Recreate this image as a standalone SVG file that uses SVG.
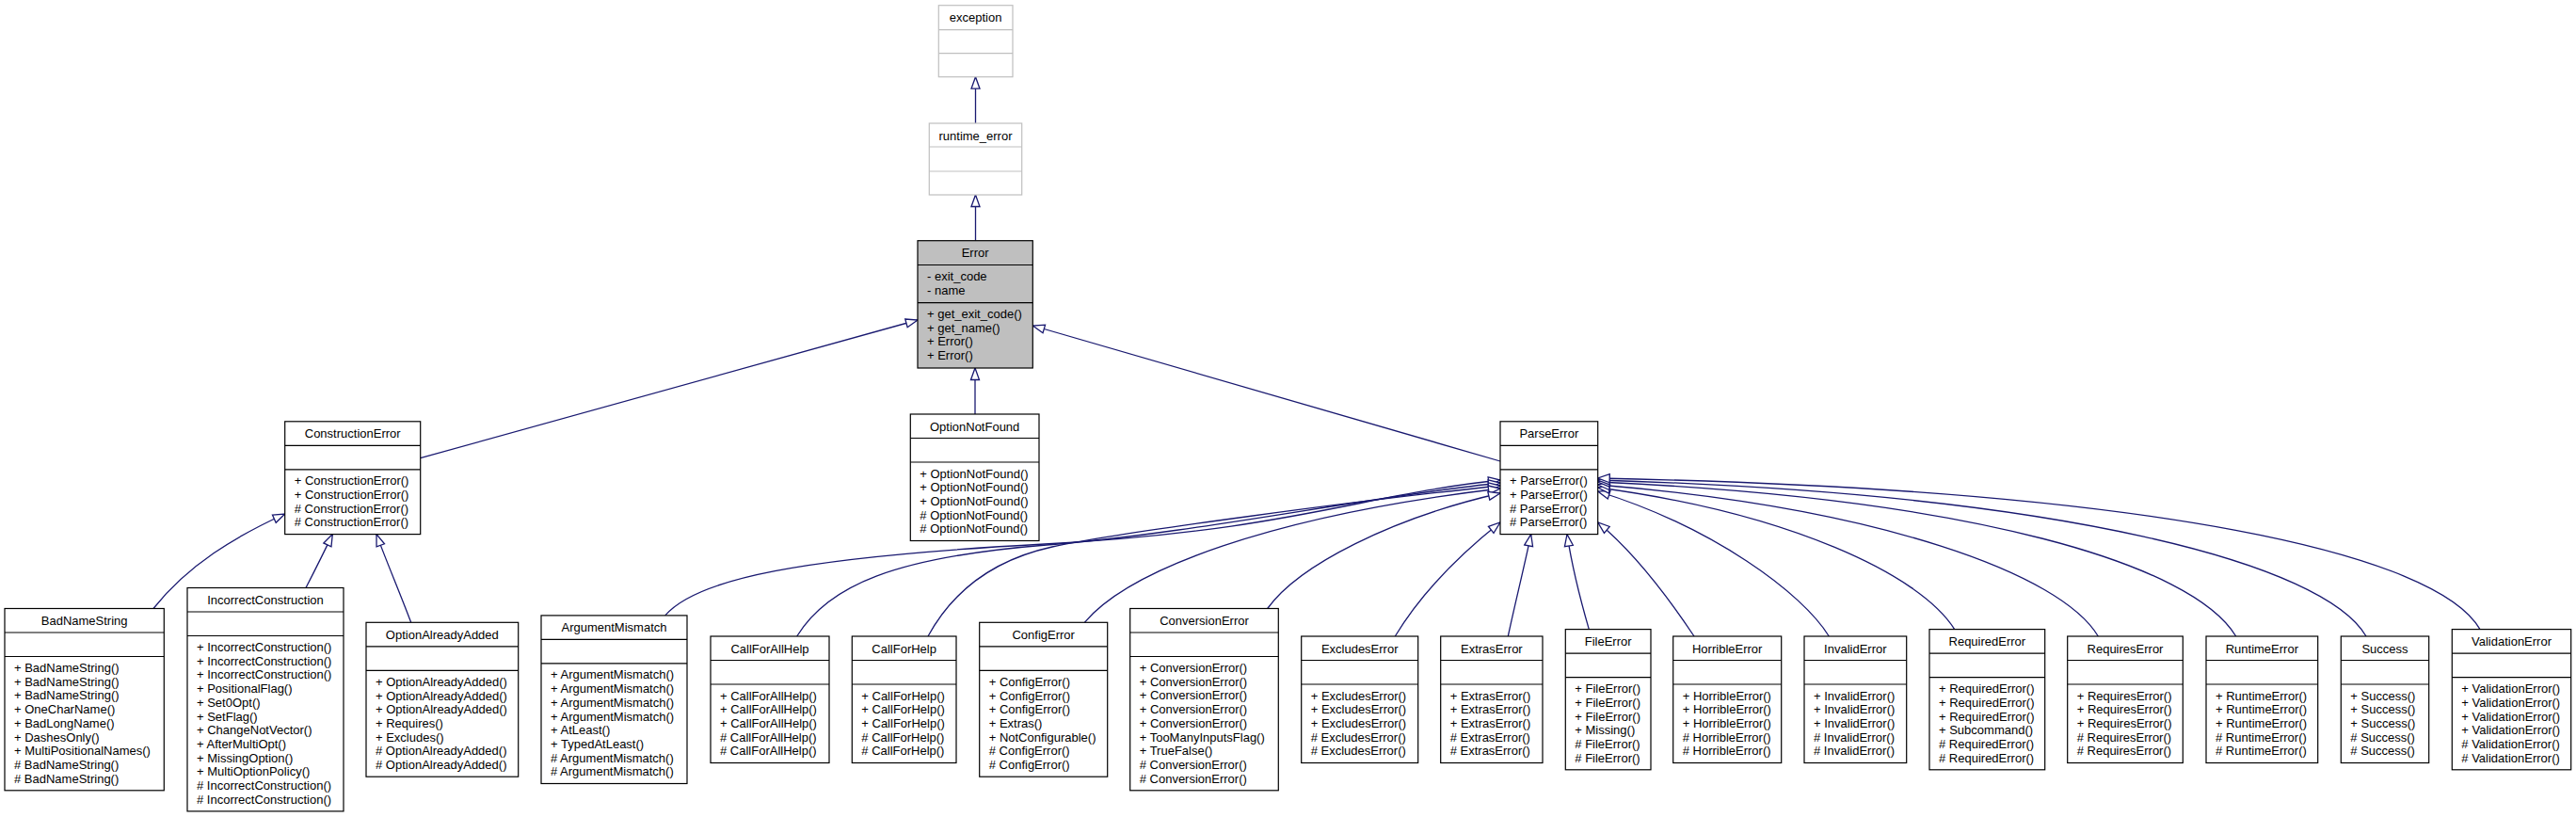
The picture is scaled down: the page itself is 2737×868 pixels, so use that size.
<svg xmlns="http://www.w3.org/2000/svg" width="2737" height="868" viewBox="0 0 2737 868">
<style>
.bg{fill:#fff}
rect.b{fill:#fff;stroke:#000;stroke-width:1.2}
rect.g{fill:#fff;stroke:#bfbfbf;stroke-width:1.2}
rect.e{fill:#bfbfbf;stroke:#000;stroke-width:1.2}
path.d{stroke:#000;stroke-width:1.2;fill:none}
path.dg{stroke:#bfbfbf;stroke-width:1.2;fill:none}
text{font-family:"Liberation Sans",Arial,Helvetica,sans-serif;font-size:13px;fill:#000}
text.t{text-anchor:middle}
#edges path{fill:none;stroke:#191970;stroke-width:1.3;marker-end:url(#tri)}
</style>
<defs>
<marker id="tri" markerUnits="userSpaceOnUse" viewBox="0 0 13 10" markerWidth="13" markerHeight="10" refX="13" refY="5" orient="auto" overflow="visible">
<path d="M0.5,0.5 L13,5 L0.5,9.5 Z" fill="#fff" stroke="#191970" stroke-width="1.3"/>
</marker>
</defs>
<rect class="bg" x="0" y="0" width="2737" height="868"/>

<g id="edges">
<path d="M1036.5,131 L1036.5,81.7"/>
<path d="M1036.5,255.7 L1036.5,207"/>
<path d="M446.7,486.7 L975,340"/>
<path d="M1036,440 L1036,391"/>
<path d="M1594,490 L1097.3,346"/>
<path d="M163,646.5 C200,600 250,570 302.7,546"/>
<path d="M325,624.5 C335,605 345,585 353.3,567.6"/>
<path d="M436.7,661.3 C425,630 410,595 400,567.6"/>
<path d="M706.7,653.9 C740,615 850,592 1110,578 S1450,525 1594,510"/>
<path d="M846.7,676 C880,622 950,592 1112,579 S1450,528 1594,513"/>
<path d="M986,676 C1010,632 1050,596 1118,581 S1450,531 1594,516"/>
<path d="M1152.3,661.3 C1200,605 1350,548 1594,519"/>
<path d="M1346.7,646.5 C1380,600 1480,550 1594,524"/>
<path d="M1482.3,676 C1510,630 1550,590 1594,555"/>
<path d="M1602.3,676 C1610,640 1620,600 1626.7,567.6"/>
<path d="M1688.3,668.6 C1680,640 1670,600 1665,567.6"/>
<path d="M1800,676 C1776,640 1740,590 1697.7,555"/>
<path d="M1943.3,676 C1915,630 1820,560 1697.7,522"/>
<path d="M2076.7,668.6 C2040,610 1900,545 1697.7,518"/>
<path d="M2229.3,676 C2190,610 2000,540 1697.7,515"/>
<path d="M2375.7,676 C2330,600 2100,530 1697.7,512"/>
<path d="M2514,676 C2470,600 2200,525 1697.7,510"/>
<path d="M2635,668.6 C2590,590 2300,520 1697.7,508"/>
</g>

<g id="n_exception">
<rect class="g" x="997.3" y="5.7" width="78.7" height="76"/>
<path class="dg" d="M997.3,31.7 h78.7 M997.3,56.7 h78.7"/>
<text class="t" x="1036.65" y="23">exception</text>
</g>

<g id="n_runtime_error">
<rect class="g" x="987.3" y="131" width="98.4" height="76"/>
<path class="dg" d="M987.3,156 h98.4 M987.3,182 h98.4"/>
<text class="t" x="1036.5" y="148.5">runtime_error</text>
</g>

<g id="n_Error">
<rect class="e" x="975" y="255.7" width="122.3" height="135.3"/>
<path class="d" d="M975,281.5 h122.3 M975,321.7 h122.3"/>
<text class="t" x="1036.15" y="273">Error</text>
<text x="985" y="298"><tspan x="985">- exit_code</tspan><tspan x="985" dy="14.7">- name</tspan></text>
<text x="985" y="338"><tspan x="985">+ get_exit_code()</tspan><tspan x="985" dy="14.7">+ get_name()</tspan><tspan x="985" dy="14.7">+ Error()</tspan><tspan x="985" dy="14.7">+ Error()</tspan></text>
</g>

<g id="n_ConstructionError">
<rect class="b" x="302.7" y="447.8" width="144" height="119.8"/>
<path class="d" d="M302.7,473.3 h144 M302.7,498.8 h144"/>
<text class="t" x="374.7" y="465.3">ConstructionError</text>
<text x="312.7" y="515.3"><tspan x="312.7">+ ConstructionError()</tspan><tspan x="312.7" dy="14.7">+ ConstructionError()</tspan><tspan x="312.7" dy="14.7"># ConstructionError()</tspan><tspan x="312.7" dy="14.7"># ConstructionError()</tspan></text>
</g>

<g id="n_OptionNotFound">
<rect class="b" x="967.3" y="440" width="136.7" height="134.5"/>
<path class="d" d="M967.3,465.5 h136.7 M967.3,491 h136.7"/>
<text class="t" x="1035.65" y="457.5">OptionNotFound</text>
<text x="977.3" y="507.5"><tspan x="977.3">+ OptionNotFound()</tspan><tspan x="977.3" dy="14.7">+ OptionNotFound()</tspan><tspan x="977.3" dy="14.7">+ OptionNotFound()</tspan><tspan x="977.3" dy="14.7"># OptionNotFound()</tspan><tspan x="977.3" dy="14.7"># OptionNotFound()</tspan></text>
</g>

<g id="n_ParseError">
<rect class="b" x="1594" y="447.8" width="103.7" height="119.8"/>
<path class="d" d="M1594,473.3 h103.7 M1594,498.8 h103.7"/>
<text class="t" x="1645.85" y="465.3">ParseError</text>
<text x="1604" y="515.3"><tspan x="1604">+ ParseError()</tspan><tspan x="1604" dy="14.7">+ ParseError()</tspan><tspan x="1604" dy="14.7"># ParseError()</tspan><tspan x="1604" dy="14.7"># ParseError()</tspan></text>
</g>

<g id="n_BadNameString">
<rect class="b" x="5" y="646.5" width="169.3" height="193.3"/>
<path class="d" d="M5,672 h169.3 M5,697.5 h169.3"/>
<text class="t" x="89.65" y="664">BadNameString</text>
<text x="15" y="714"><tspan x="15">+ BadNameString()</tspan><tspan x="15" dy="14.7">+ BadNameString()</tspan><tspan x="15" dy="14.7">+ BadNameString()</tspan><tspan x="15" dy="14.7">+ OneCharName()</tspan><tspan x="15" dy="14.7">+ BadLongName()</tspan><tspan x="15" dy="14.7">+ DashesOnly()</tspan><tspan x="15" dy="14.7">+ MultiPositionalNames()</tspan><tspan x="15" dy="14.7"># BadNameString()</tspan><tspan x="15" dy="14.7"># BadNameString()</tspan></text>
</g>

<g id="n_IncorrectConstruction">
<rect class="b" x="199" y="624.5" width="166" height="237.4"/>
<path class="d" d="M199,650 h166 M199,675.5 h166"/>
<text class="t" x="282" y="642">IncorrectConstruction</text>
<text x="209" y="692"><tspan x="209">+ IncorrectConstruction()</tspan><tspan x="209" dy="14.7">+ IncorrectConstruction()</tspan><tspan x="209" dy="14.7">+ IncorrectConstruction()</tspan><tspan x="209" dy="14.7">+ PositionalFlag()</tspan><tspan x="209" dy="14.7">+ Set0Opt()</tspan><tspan x="209" dy="14.7">+ SetFlag()</tspan><tspan x="209" dy="14.7">+ ChangeNotVector()</tspan><tspan x="209" dy="14.7">+ AfterMultiOpt()</tspan><tspan x="209" dy="14.7">+ MissingOption()</tspan><tspan x="209" dy="14.7">+ MultiOptionPolicy()</tspan><tspan x="209" dy="14.7"># IncorrectConstruction()</tspan><tspan x="209" dy="14.7"># IncorrectConstruction()</tspan></text>
</g>

<g id="n_OptionAlreadyAdded">
<rect class="b" x="389" y="661.3" width="161.7" height="163.9"/>
<path class="d" d="M389,686.8 h161.7 M389,712.3 h161.7"/>
<text class="t" x="469.85" y="678.8">OptionAlreadyAdded</text>
<text x="399" y="728.8"><tspan x="399">+ OptionAlreadyAdded()</tspan><tspan x="399" dy="14.7">+ OptionAlreadyAdded()</tspan><tspan x="399" dy="14.7">+ OptionAlreadyAdded()</tspan><tspan x="399" dy="14.7">+ Requires()</tspan><tspan x="399" dy="14.7">+ Excludes()</tspan><tspan x="399" dy="14.7"># OptionAlreadyAdded()</tspan><tspan x="399" dy="14.7"># OptionAlreadyAdded()</tspan></text>
</g>

<g id="n_ArgumentMismatch">
<rect class="b" x="575" y="653.9" width="155" height="178.6"/>
<path class="d" d="M575,679.4 h155 M575,704.9 h155"/>
<text class="t" x="652.5" y="671.4">ArgumentMismatch</text>
<text x="585" y="721.4"><tspan x="585">+ ArgumentMismatch()</tspan><tspan x="585" dy="14.7">+ ArgumentMismatch()</tspan><tspan x="585" dy="14.7">+ ArgumentMismatch()</tspan><tspan x="585" dy="14.7">+ ArgumentMismatch()</tspan><tspan x="585" dy="14.7">+ AtLeast()</tspan><tspan x="585" dy="14.7">+ TypedAtLeast()</tspan><tspan x="585" dy="14.7"># ArgumentMismatch()</tspan><tspan x="585" dy="14.7"># ArgumentMismatch()</tspan></text>
</g>

<g id="n_CallForAllHelp">
<rect class="b" x="755" y="676" width="126" height="134.5"/>
<path class="d" d="M755,701.5 h126 M755,727 h126"/>
<text class="t" x="818" y="693.5">CallForAllHelp</text>
<text x="765" y="743.5"><tspan x="765">+ CallForAllHelp()</tspan><tspan x="765" dy="14.7">+ CallForAllHelp()</tspan><tspan x="765" dy="14.7">+ CallForAllHelp()</tspan><tspan x="765" dy="14.7"># CallForAllHelp()</tspan><tspan x="765" dy="14.7"># CallForAllHelp()</tspan></text>
</g>

<g id="n_CallForHelp">
<rect class="b" x="905.3" y="676" width="110.7" height="134.5"/>
<path class="d" d="M905.3,701.5 h110.7 M905.3,727 h110.7"/>
<text class="t" x="960.65" y="693.5">CallForHelp</text>
<text x="915.3" y="743.5"><tspan x="915.3">+ CallForHelp()</tspan><tspan x="915.3" dy="14.7">+ CallForHelp()</tspan><tspan x="915.3" dy="14.7">+ CallForHelp()</tspan><tspan x="915.3" dy="14.7"># CallForHelp()</tspan><tspan x="915.3" dy="14.7"># CallForHelp()</tspan></text>
</g>

<g id="n_ConfigError">
<rect class="b" x="1040.7" y="661.3" width="136" height="163.9"/>
<path class="d" d="M1040.7,686.8 h136 M1040.7,712.3 h136"/>
<text class="t" x="1108.7" y="678.8">ConfigError</text>
<text x="1050.7" y="728.8"><tspan x="1050.7">+ ConfigError()</tspan><tspan x="1050.7" dy="14.7">+ ConfigError()</tspan><tspan x="1050.7" dy="14.7">+ ConfigError()</tspan><tspan x="1050.7" dy="14.7">+ Extras()</tspan><tspan x="1050.7" dy="14.7">+ NotConfigurable()</tspan><tspan x="1050.7" dy="14.7"># ConfigError()</tspan><tspan x="1050.7" dy="14.7"># ConfigError()</tspan></text>
</g>

<g id="n_ConversionError">
<rect class="b" x="1200.7" y="646.5" width="157.6" height="193.3"/>
<path class="d" d="M1200.7,672 h157.6 M1200.7,697.5 h157.6"/>
<text class="t" x="1279.5" y="664">ConversionError</text>
<text x="1210.7" y="714"><tspan x="1210.7">+ ConversionError()</tspan><tspan x="1210.7" dy="14.7">+ ConversionError()</tspan><tspan x="1210.7" dy="14.7">+ ConversionError()</tspan><tspan x="1210.7" dy="14.7">+ ConversionError()</tspan><tspan x="1210.7" dy="14.7">+ ConversionError()</tspan><tspan x="1210.7" dy="14.7">+ TooManyInputsFlag()</tspan><tspan x="1210.7" dy="14.7">+ TrueFalse()</tspan><tspan x="1210.7" dy="14.7"># ConversionError()</tspan><tspan x="1210.7" dy="14.7"># ConversionError()</tspan></text>
</g>

<g id="n_ExcludesError">
<rect class="b" x="1382.7" y="676" width="124" height="134.5"/>
<path class="d" d="M1382.7,701.5 h124 M1382.7,727 h124"/>
<text class="t" x="1444.7" y="693.5">ExcludesError</text>
<text x="1392.7" y="743.5"><tspan x="1392.7">+ ExcludesError()</tspan><tspan x="1392.7" dy="14.7">+ ExcludesError()</tspan><tspan x="1392.7" dy="14.7">+ ExcludesError()</tspan><tspan x="1392.7" dy="14.7"># ExcludesError()</tspan><tspan x="1392.7" dy="14.7"># ExcludesError()</tspan></text>
</g>

<g id="n_ExtrasError">
<rect class="b" x="1530.7" y="676" width="108.3" height="134.5"/>
<path class="d" d="M1530.7,701.5 h108.3 M1530.7,727 h108.3"/>
<text class="t" x="1584.85" y="693.5">ExtrasError</text>
<text x="1540.7" y="743.5"><tspan x="1540.7">+ ExtrasError()</tspan><tspan x="1540.7" dy="14.7">+ ExtrasError()</tspan><tspan x="1540.7" dy="14.7">+ ExtrasError()</tspan><tspan x="1540.7" dy="14.7"># ExtrasError()</tspan><tspan x="1540.7" dy="14.7"># ExtrasError()</tspan></text>
</g>

<g id="n_FileError">
<rect class="b" x="1663.3" y="668.6" width="90.7" height="149.2"/>
<path class="d" d="M1663.3,694.1 h90.7 M1663.3,719.6 h90.7"/>
<text class="t" x="1708.65" y="686.1">FileError</text>
<text x="1673.3" y="736.1"><tspan x="1673.3">+ FileError()</tspan><tspan x="1673.3" dy="14.7">+ FileError()</tspan><tspan x="1673.3" dy="14.7">+ FileError()</tspan><tspan x="1673.3" dy="14.7">+ Missing()</tspan><tspan x="1673.3" dy="14.7"># FileError()</tspan><tspan x="1673.3" dy="14.7"># FileError()</tspan></text>
</g>

<g id="n_HorribleError">
<rect class="b" x="1777.7" y="676" width="115" height="134.5"/>
<path class="d" d="M1777.7,701.5 h115 M1777.7,727 h115"/>
<text class="t" x="1835.2" y="693.5">HorribleError</text>
<text x="1787.7" y="743.5"><tspan x="1787.7">+ HorribleError()</tspan><tspan x="1787.7" dy="14.7">+ HorribleError()</tspan><tspan x="1787.7" dy="14.7">+ HorribleError()</tspan><tspan x="1787.7" dy="14.7"># HorribleError()</tspan><tspan x="1787.7" dy="14.7"># HorribleError()</tspan></text>
</g>

<g id="n_InvalidError">
<rect class="b" x="1917" y="676" width="108.7" height="134.5"/>
<path class="d" d="M1917,701.5 h108.7 M1917,727 h108.7"/>
<text class="t" x="1971.35" y="693.5">InvalidError</text>
<text x="1927" y="743.5"><tspan x="1927">+ InvalidError()</tspan><tspan x="1927" dy="14.7">+ InvalidError()</tspan><tspan x="1927" dy="14.7">+ InvalidError()</tspan><tspan x="1927" dy="14.7"># InvalidError()</tspan><tspan x="1927" dy="14.7"># InvalidError()</tspan></text>
</g>

<g id="n_RequiredError">
<rect class="b" x="2050" y="668.6" width="122.7" height="149.2"/>
<path class="d" d="M2050,694.1 h122.7 M2050,719.6 h122.7"/>
<text class="t" x="2111.35" y="686.1">RequiredError</text>
<text x="2060" y="736.1"><tspan x="2060">+ RequiredError()</tspan><tspan x="2060" dy="14.7">+ RequiredError()</tspan><tspan x="2060" dy="14.7">+ RequiredError()</tspan><tspan x="2060" dy="14.7">+ Subcommand()</tspan><tspan x="2060" dy="14.7"># RequiredError()</tspan><tspan x="2060" dy="14.7"># RequiredError()</tspan></text>
</g>

<g id="n_RequiresError">
<rect class="b" x="2196.7" y="676" width="122.6" height="134.5"/>
<path class="d" d="M2196.7,701.5 h122.6 M2196.7,727 h122.6"/>
<text class="t" x="2258" y="693.5">RequiresError</text>
<text x="2206.7" y="743.5"><tspan x="2206.7">+ RequiresError()</tspan><tspan x="2206.7" dy="14.7">+ RequiresError()</tspan><tspan x="2206.7" dy="14.7">+ RequiresError()</tspan><tspan x="2206.7" dy="14.7"># RequiresError()</tspan><tspan x="2206.7" dy="14.7"># RequiresError()</tspan></text>
</g>

<g id="n_RuntimeError">
<rect class="b" x="2344" y="676" width="118.7" height="134.5"/>
<path class="d" d="M2344,701.5 h118.7 M2344,727 h118.7"/>
<text class="t" x="2403.35" y="693.5">RuntimeError</text>
<text x="2354" y="743.5"><tspan x="2354">+ RuntimeError()</tspan><tspan x="2354" dy="14.7">+ RuntimeError()</tspan><tspan x="2354" dy="14.7">+ RuntimeError()</tspan><tspan x="2354" dy="14.7"># RuntimeError()</tspan><tspan x="2354" dy="14.7"># RuntimeError()</tspan></text>
</g>

<g id="n_Success">
<rect class="b" x="2487.3" y="676" width="93.4" height="134.5"/>
<path class="d" d="M2487.3,701.5 h93.4 M2487.3,727 h93.4"/>
<text class="t" x="2534" y="693.5">Success</text>
<text x="2497.3" y="743.5"><tspan x="2497.3">+ Success()</tspan><tspan x="2497.3" dy="14.7">+ Success()</tspan><tspan x="2497.3" dy="14.7">+ Success()</tspan><tspan x="2497.3" dy="14.7"># Success()</tspan><tspan x="2497.3" dy="14.7"># Success()</tspan></text>
</g>

<g id="n_ValidationError">
<rect class="b" x="2605.3" y="668.6" width="126.4" height="149.2"/>
<path class="d" d="M2605.3,694.1 h126.4 M2605.3,719.6 h126.4"/>
<text class="t" x="2668.5" y="686.1">ValidationError</text>
<text x="2615.3" y="736.1"><tspan x="2615.3">+ ValidationError()</tspan><tspan x="2615.3" dy="14.7">+ ValidationError()</tspan><tspan x="2615.3" dy="14.7">+ ValidationError()</tspan><tspan x="2615.3" dy="14.7">+ ValidationError()</tspan><tspan x="2615.3" dy="14.7"># ValidationError()</tspan><tspan x="2615.3" dy="14.7"># ValidationError()</tspan></text>
</g>
</svg>
